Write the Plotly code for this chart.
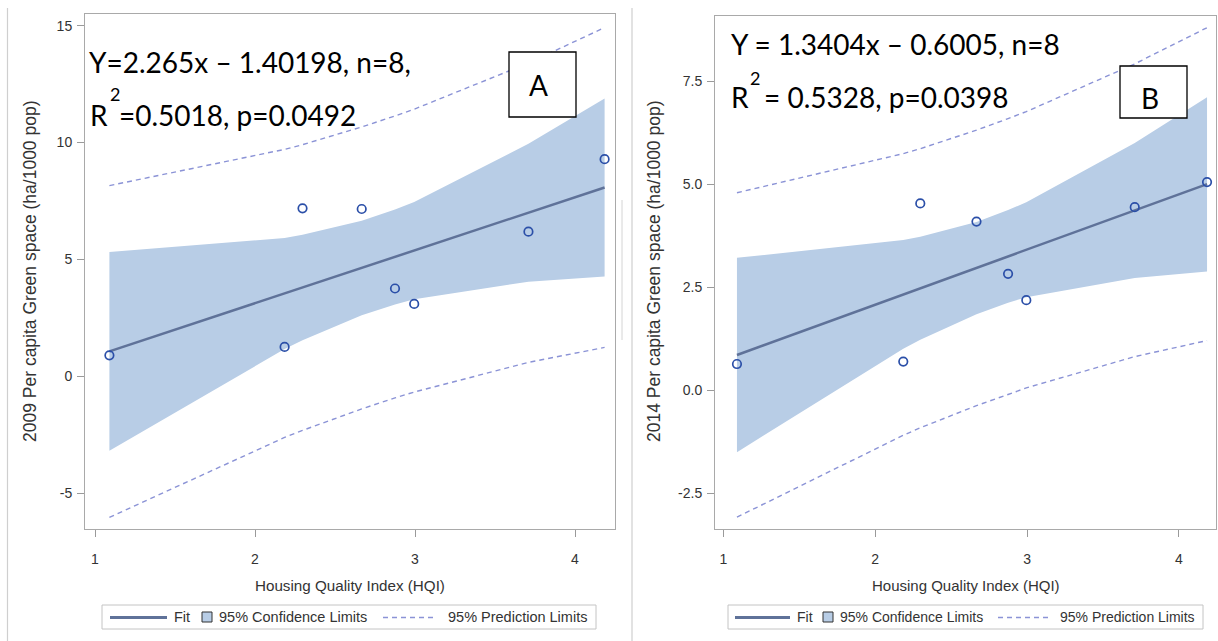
import plotly.graph_objects as go

# ---------------- data ----------------
hqi = [1.09, 2.185, 2.297, 2.667, 2.875, 2.995, 3.709, 4.185]

# Panel A : 2009
a_obs = [0.90, 1.26, 7.19, 7.16, 3.76, 3.10, 6.19, 9.29]
a_fit = [1.07, 3.55, 3.80, 4.64, 5.11, 5.38, 7.00, 8.08]
a_ci_lo = [-3.18, 1.17, 1.55, 2.62, 3.08, 3.30, 4.05, 4.27]
a_ci_hi = [5.32, 5.92, 6.06, 6.66, 7.14, 7.46, 9.95, 11.89]
a_pi_lo = [-6.03, -2.61, -2.31, -1.39, -0.92, -0.67, 0.60, 1.24]
a_pi_hi = [8.16, 9.71, 9.91, 10.67, 11.14, 11.43, 13.40, 14.92]

# Panel B : 2014
b_obs = [0.64, 0.70, 4.54, 4.10, 2.83, 2.19, 4.45, 5.06]
b_fit = [0.86, 2.33, 2.48, 2.97, 3.25, 3.41, 4.37, 5.01]
b_ci_lo = [-1.50, 1.01, 1.23, 1.85, 2.13, 2.26, 2.73, 2.89]
b_ci_hi = [3.22, 3.65, 3.73, 4.09, 4.38, 4.57, 6.01, 7.12]
b_pi_lo = [-3.08, -1.09, -0.91, -0.37, -0.10, 0.06, 0.82, 1.21]
b_pi_hi = [4.80, 5.75, 5.87, 6.32, 6.60, 6.77, 7.93, 8.81]

x_ticks = [1, 2, 3, 4]
a_y_ticks = [-5, 0, 5, 10, 15]
a_y_labels = ["-5", "0", "5", "10", "15"]
b_y_ticks = [-2.5, 0.0, 2.5, 5.0, 7.5]
b_y_labels = ["-2.5", "0.0", "2.5", "5.0", "7.5"]

x_title = "Housing Quality Index (HQI)"
a_y_title = "2009 Per capita Green space (ha/1000 pop)"
b_y_title = "2014 Per capita Green space (ha/1000 pop)"
legend_labels = ["Fit", "95% Confidence Limits", "95% Prediction Limits"]

# ---------------- styling ----------------
W, H = 1218, 641
BAND = "#b8cde6"
FITC = "#5f7299"
DASHC = "#8b93d6"
MARK = "#2b4fa8"
AXC = "#a9a9a9"
TXT = "#333333"
SANS = "Liberation Sans, Arial, sans-serif"
CAL = "Lato, Carlito, Calibri, sans-serif"


def fx(px):
    return px / W


def fy(py):
    return 1 - py / H


fig = go.Figure()


def add_panel(xa, ya, obs, fit, ci_lo, ci_hi, pi_lo, pi_hi):
    fig.add_trace(go.Scatter(x=hqi, y=ci_lo, mode="lines", line=dict(width=0),
                             showlegend=False, hoverinfo="skip", xaxis=xa, yaxis=ya))
    fig.add_trace(go.Scatter(x=hqi, y=ci_hi, mode="lines", line=dict(width=0),
                             fill="tonexty", fillcolor=BAND,
                             showlegend=False, hoverinfo="skip", xaxis=xa, yaxis=ya))
    fig.add_trace(go.Scatter(x=hqi, y=fit, mode="lines",
                             line=dict(color=FITC, width=2.5),
                             showlegend=False, xaxis=xa, yaxis=ya))
    for arr in (pi_lo, pi_hi):
        fig.add_trace(go.Scatter(x=hqi, y=arr, mode="lines",
                                 line=dict(color=DASHC, width=1.4, dash="5px,4px"),
                                 showlegend=False, xaxis=xa, yaxis=ya))
    fig.add_trace(go.Scatter(x=hqi, y=obs, mode="markers",
                             marker=dict(symbol="circle-open", size=8.5,
                                         color=MARK, line=dict(width=1.7, color=MARK)),
                             showlegend=False, xaxis=xa, yaxis=ya))


add_panel("x", "y", a_obs, a_fit, a_ci_lo, a_ci_hi, a_pi_lo, a_pi_hi)
add_panel("x2", "y2", b_obs, b_fit, b_ci_lo, b_ci_hi, b_pi_lo, b_pi_hi)

axis_common = dict(showgrid=False, zeroline=False, showline=True, linecolor=AXC,
                   linewidth=1, mirror=True, ticks="outside", ticklen=7,
                   tickcolor="#9a9a9a", tickwidth=1,
                   tickfont=dict(family=SANS, size=14, color=TXT))

fig.update_layout(
    width=W, height=H,
    margin=dict(l=0, r=0, t=0, b=0),
    paper_bgcolor="white", plot_bgcolor="white",
    showlegend=False,
    xaxis=dict(domain=[fx(85), fx(615)], range=[0.9375, 4.25], tickvals=x_ticks,
               anchor="y", ticklabelstandoff=10, **axis_common),
    yaxis=dict(domain=[fy(529), fy(14)], range=[-6.527, 15.5], tickvals=a_y_ticks,
               ticktext=a_y_labels, anchor="x", ticklabelstandoff=2, **axis_common),
    xaxis2=dict(domain=[fx(715), fx(1216)], range=[0.9454, 4.244], tickvals=x_ticks,
                anchor="y2", ticklabelstandoff=10, **axis_common),
    yaxis2=dict(domain=[fy(529), fy(15.7)], range=[-3.367, 9.10], tickvals=b_y_ticks,
                ticktext=b_y_labels, anchor="x2", ticklabelstandoff=2, **axis_common),
)

shapes = []
annots = []


def pline(x0, y0, x1, y1, color, width=1, dash=None):
    ln = dict(color=color, width=width)
    if dash:
        ln["dash"] = dash
    shapes.append(dict(type="line", xref="paper", yref="paper",
                       x0=fx(x0), y0=fy(y0), x1=fx(x1), y1=fy(y1), line=ln))


def prect(x0, y0, x1, y1, lc, fill, lw=1):
    shapes.append(dict(type="rect", xref="paper", yref="paper",
                       x0=fx(x0), y0=fy(y0), x1=fx(x1), y1=fy(y1),
                       line=dict(color=lc, width=lw), fillcolor=fill))


def ptext(x, y, text, family, size, color="black", xanchor="left", angle=0):
    annots.append(dict(xref="paper", yref="paper", x=fx(x), y=fy(y), text=text,
                       showarrow=False, xanchor=xanchor, yanchor="middle",
                       textangle=angle, font=dict(family=family, size=size, color=color)))


# outer panel separators
pline(7.5, 8, 7.5, 641, "#cfcfcf", 1.2)
pline(632, 8, 632, 641, "#cfcfcf", 1.2)
pline(622, 200, 622, 340, "#d4d4d4", 1)

# axis titles
ptext(350, 585, x_title, SANS, 15.2, TXT, "center")
ptext(966, 585, x_title, SANS, 15, TXT, "center")
ptext(30, 272, a_y_title, SANS, 17.5, TXT, "center", -90)
ptext(654, 272, b_y_title, SANS, 17.5, TXT, "center", -90)

# equation texts
ptext(87, 62, "Y=2.265x \u2013 1.40198, n=8,", CAL, 28)
ptext(88, 115, "R", CAL, 28)
ptext(108, 94, "2", CAL, 18)
ptext(117, 115, "=0.5018, p=0.0492", CAL, 28)

ptext(729, 44, "Y = 1.3404x \u2013 0.6005, n=8", CAL, 28)
ptext(729, 97, "R", CAL, 28)
ptext(748, 78, "2", CAL, 18)
ptext(762, 97, "= 0.5328, p=0.0398", CAL, 28)

# panel label boxes
prect(509, 52, 576, 117, "black", "white", 1.3)
ptext(538.5, 85, "A", CAL, 28, "black", "center")
prect(1120, 66, 1187, 118, "black", "white", 1.3)
ptext(1149.5, 98, "B", CAL, 28, "black", "center")


def legend(x0, x1, fit_a, fit_b, fit_t, sq, ci_t, dash_a, dash_b, pi_t, fsize):
    prect(x0, 605, x1, 629, "#c4c4c4", "white", 1)
    pline(fit_a, 617.5, fit_b, 617.5, FITC, 3)
    ptext(fit_t, 617, legend_labels[0], SANS, fsize, TXT)
    prect(sq, 612, sq + 10, 622, "#333333", BAND, 1)
    ptext(ci_t, 617, legend_labels[1], SANS, fsize, TXT)
    pline(dash_a, 617.5, dash_b, 617.5, DASHC, 1.4, "5px,4px")
    ptext(pi_t, 617, legend_labels[2], SANS, fsize, TXT)


legend(102, 596, 110, 167, 172, 202, 217, 383, 437, 446, 14.5)
legend(728, 1203, 735, 790, 795, 823, 838, 998, 1048, 1058, 14)

fig.update_layout(shapes=shapes, annotations=annots)
fig.write_html("out.html", config={"displayModeBar": False},
               post_script="document.body.style.margin='0px';")
